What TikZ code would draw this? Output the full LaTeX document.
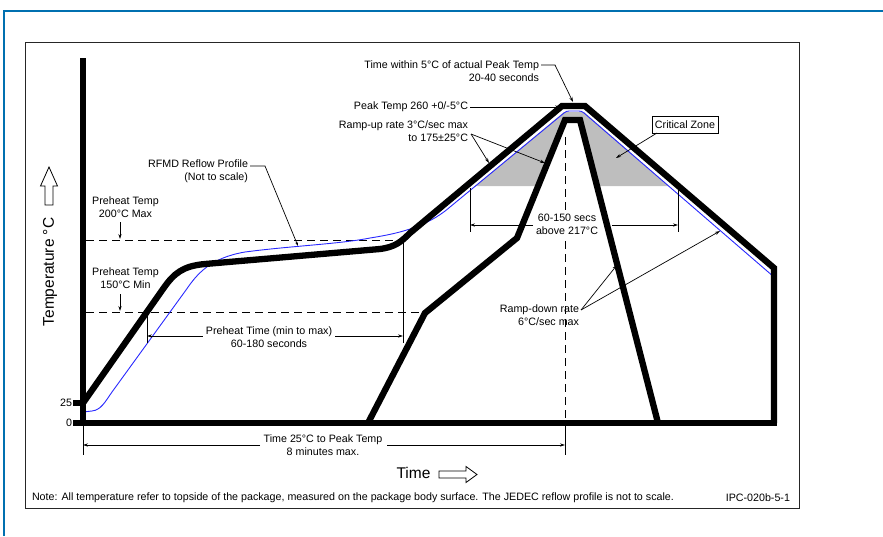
\documentclass[tikz,border=0pt]{standalone}
\usepackage{fontspec}
\setmainfont{Liberation Sans}
\usetikzlibrary{arrows.meta}
\definecolor{frameblue}{RGB}{0,112,176}
\definecolor{curveblue}{RGB}{40,40,255}
\definecolor{zonegray}{RGB}{190,190,190}
\begin{document}
\begin{tikzpicture}[x=1pt,y=-1pt,
  every node/.style={inner sep=0pt, outer sep=0pt},
  thickline/.style={line width=6.3pt, line join=miter},
  blueline/.style={draw=curveblue, line width=0.9pt},
  thinline/.style={line width=0.7pt},
  leader/.style={line width=0.7pt, -{Stealth[length=5pt,width=3.2pt]}},
  dimline/.style={line width=0.7pt, {Stealth[length=5pt,width=3.2pt]}-{Stealth[length=5pt,width=3.2pt]}},
  dashedline/.style={line width=0.9pt, dash pattern=on 8pt off 5pt},
  lbl/.style={font=\fontsize{10.7}{12.8}\selectfont, align=center},
  axislbl/.style={font=\fontsize{15.5}{18}\selectfont},
  hollow/.style={draw, line width=0.8pt, fill=white},
]
\useasboundingbox (0,0) rectangle (883,536);
% frames
\draw[frameblue, line width=2.5pt] (4,536) -- (4,11) -- (883,11);
\draw[line width=1pt, draw=black!85] (25,42) rectangle (799,508);
% critical zone
\fill[zonegray] (475,186) -- (564,112) -- (584,112) -- (669,186) -- cycle;
\fill[white] (517,238) -- (565,120) -- (580,120) -- (658,423) -- (368,423) -- (425,313) -- cycle;
% dashed reference lines
\draw[dashedline] (86,240) -- (401,240);
\draw[dashedline] (86,312) -- (425,312);
\draw[dashedline] (565,137) -- (565,423);
% blue reflow profile
\draw[blueline] (83,412) -- (92,411) .. controls (101,410) and (105,402) .. (112,392) -- (186,290)
  .. controls (197,274) and (210,258) .. (245,252)
  .. controls (290,246) and (340,244) .. (370,238)
  .. controls (395,234) and (426,228) .. (450,207) -- (564,113)
  .. controls (566,111.5) and (567,111) .. (569,111) -- (579,111)
  .. controls (581,111) and (582,111.5) .. (584,113) -- (774,277);
% black envelopes
\draw[thickline] (83,403) -- (163,289) .. controls (174,273) and (183,266) .. (205,264) -- (380,249)
  .. controls (395,247) and (401,242) .. (410,233) -- (562,106) -- (585,106) -- (774,268) -- (774,423);
\draw[thickline] (368,423) -- (425,313) -- (517,238) -- (565,120) -- (580,120) -- (658,423);
% axes
\draw[thickline] (83,58) -- (83,426);
\draw[thickline] (73,423) -- (777,423);
\draw[thickline] (73,403) -- (83,403);
\node[lbl, anchor=east] (n25) at (72,403) {25};
\node[lbl, anchor=east] (n0) at (72,423) {0};
% preheat time dimension
\draw[thinline] (147,312) -- (147,343);
\draw[thinline] (403,243) -- (403,343);
\draw[dimline] (147,336) -- (403,336);
\node[lbl, fill=white, inner xsep=3pt, inner ysep=1pt] (pht) at (269,337) {Preheat Time (min to max)\\60-180 seconds};
% 60-150 dimension
\draw[thinline] (470,188) -- (470,232);
\draw[thinline] (678,188) -- (678,232);
\node[lbl, fill=white, inner xsep=1pt, inner ysep=1.5pt] (abv) at (567,224.5) {60-150 secs\\above 217°C};
\coordinate (abvL) at (533,225);
\coordinate (abvR) at (612,225);
\draw[leader] (abvL) -- (470,225);
\draw[leader] (abvR) -- (678,225);
% time to peak dimension
\draw[thinline] (83,426) -- (83,455);
\draw[thinline] (565,426) -- (565,455);
\node[lbl] (t25) at (323,445.5) {Time 25°C to Peak Temp\\8 minutes max.};
\draw[leader] (260,445) -- (83,445);
\draw[leader] (387,445) -- (565,445);
% labels with leaders
\node[lbl, anchor=east, align=right] (twin) at (539,71.5) {Time within 5°C of actual Peak Temp\\20-40 seconds};
\draw[leader] (541,65) -- (555,65) -- (573,102);
\node[lbl, anchor=east] (peak) at (468,107) {Peak Temp 260 +0/-5°C};
\draw[leader] (470,107) -- (560,107);
\node[lbl, anchor=east, align=right] (rampup) at (468,131.5) {Ramp-up rate 3°C/sec max\\to 175±25°C};
\coordinate (ru) at (471,134);
\draw[leader] (ru) -- (489,163);
\draw[leader] (ru) -- (545,163);
\node[lbl, draw, line width=0.8pt, minimum width=66pt, minimum height=17pt] (cz) at (685,124.5) {Critical Zone};
\draw[leader] (657,133) -- (616,158);
\node[lbl, anchor=east, align=right] (rfmd) at (248,171.5) {RFMD Reflow Profile\\(Not to scale)};
\draw[thinline, -{Stealth[length=4pt,width=2.5pt]}] (250,166) -- (265,166) -- (298,246);
\node[lbl] (pt200) at (125.5,207.5) {Preheat Temp\\200°C Max};
\draw[leader] (120,222) -- (120,239);
\node[lbl] (pt150) at (125.5,278) {Preheat Temp\\150°C Min};
\draw[leader] (120,294) -- (120,311);
\node[lbl, anchor=east, align=right] (rampdn) at (579,315.5) {Ramp-down rate\\6°C/sec max};
\coordinate (rd) at (581,310);
\draw[leader] (rd) -- (617,265);
\draw[leader] (rd) -- (720,231);
% axis labels
\node[axislbl, rotate=90] (templbl) at (50,272) {Temperature °C};
\draw[hollow] (49,167) -- (57.5,186) -- (53,186) -- (53,205) -- (45,205) -- (45,186) -- (40.5,186) -- cycle;
\node[axislbl] (timelbl) at (413.5,473) {Time};
\draw[hollow] (477,474.5) -- (466,466.5) -- (466,471) -- (439,471) -- (439,478) -- (466,478) -- (466,482.5) -- cycle;
% footer
\node[lbl, anchor=west] (note) at (32,498) {Note: All temperature refer to topside of the package, measured on the package body surface. The JEDEC reflow profile is not to scale.};
\node[lbl, anchor=east] (ipc) at (790,498) {IPC-020b-5-1};
\end{tikzpicture}
\end{document}
